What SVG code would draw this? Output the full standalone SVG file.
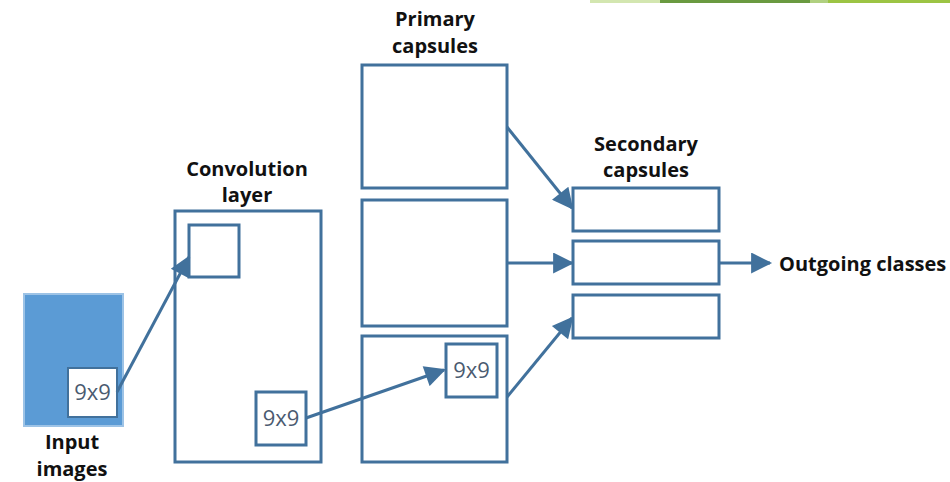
<svg xmlns="http://www.w3.org/2000/svg" width="950" height="482" viewBox="0 0 950 482">
<style>
.box{fill:#fff;stroke:#41719c;stroke-width:3}
.lbl{font-family:"Open Sans","Liberation Sans",sans-serif;font-weight:bold;font-size:20px;fill:#111;text-anchor:middle}
.k{font-family:"Open Sans","Liberation Sans",sans-serif;font-size:22px;fill:#4a5a70;text-anchor:middle}
.c{stroke:#41719c;stroke-width:3;fill:none;marker-end:url(#ah)}
</style>
<defs>
<marker id="ah" viewBox="0 0 10 10" refX="9" refY="5" markerWidth="8" markerHeight="7" markerUnits="strokeWidth" orient="auto">
<path d="M0,0 L10,5 L0,10 z" fill="#41719c"/>
</marker>
</defs>
<rect x="0" y="0" width="950" height="482" fill="#fff"/>
<g id="topbar">
<rect x="590" y="0" width="70" height="3" fill="#d3e6b0"/>
<rect x="660" y="0" width="150" height="3" fill="#6a9a40"/>
<rect x="810" y="0" width="18" height="3" fill="#b0d080"/>
<rect x="828" y="0" width="122" height="3" fill="#9cc444"/>
</g>
<g id="input">
<rect x="24" y="294" width="99" height="132" fill="#5b9bd5" stroke="#9dc3e6" stroke-width="2"/>
<rect x="68" y="368" width="49" height="49" fill="#fff" stroke="#41719c" stroke-width="2"/>
<text class="k" x="92.5" y="400">9x9</text>
<text class="lbl" x="72" y="449">Input</text>
<text class="lbl" x="72" y="476">images</text>
</g>
<g id="conv">
<text class="lbl" x="247" y="176">Convolution</text>
<text class="lbl" x="247" y="202">layer</text>
<rect class="box" x="175" y="211" width="146" height="251"/>
<rect class="box" x="189" y="225" width="50" height="52"/>
<rect class="box" x="256" y="392" width="50" height="53"/>
<text class="k" x="281" y="426">9x9</text>
</g>
<g id="primary">
<text class="lbl" x="435" y="26">Primary</text>
<text class="lbl" x="435" y="53">capsules</text>
<rect class="box" x="362" y="65" width="145" height="123"/>
<rect class="box" x="362" y="200" width="145" height="126"/>
<rect class="box" x="362" y="336" width="145" height="126"/>
<rect class="box" x="446" y="344" width="51" height="53"/>
<text class="k" x="471.5" y="378">9x9</text>
</g>
<g id="secondary">
<text class="lbl" x="646" y="151">Secondary</text>
<text class="lbl" x="646" y="177">capsules</text>
<rect class="box" x="573" y="188" width="146" height="43"/>
<rect class="box" x="573" y="241" width="146" height="43"/>
<rect class="box" x="573" y="295" width="146" height="43"/>
</g>
<g id="outgoing">
<text class="lbl" x="779" y="271" style="text-anchor:start">Outgoing classes</text>
</g>
<g id="connectors">
<line class="c" x1="117" y1="392" x2="189" y2="257"/>
<line class="c" x1="306" y1="418" x2="444" y2="370"/>
<line class="c" x1="507" y1="127" x2="572" y2="208"/>
<line class="c" x1="507" y1="263" x2="572" y2="263"/>
<line class="c" x1="507" y1="397" x2="572" y2="318"/>
<line class="c" x1="719" y1="263" x2="770" y2="263"/>
</g>
</svg>
